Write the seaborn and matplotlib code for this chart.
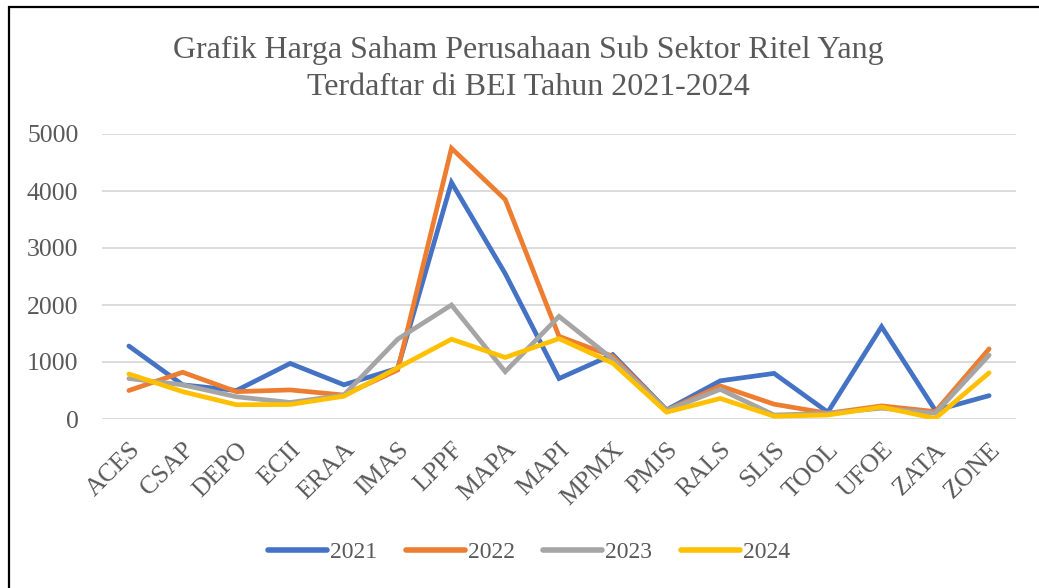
import numpy as np
import pandas as pd
import seaborn as sns
import matplotlib
matplotlib.use("Agg")
import matplotlib.pyplot as plt
from matplotlib.patches import Rectangle

companies = ["ACES", "CSAP", "DEPO", "ECII", "ERAA", "IMAS", "LPPF", "MAPA", "MAPI",
             "MPMX", "PMJS", "RALS", "SLIS", "TOOL", "UFOE", "ZATA", "ZONE"]
v2021 = [1280, 600, 500, 975, 600, 890, 4150, 2550, 710, 1130, 160, 670, 800, 120, 1620, 150, 410]
v2022 = [500, 820, 480, 510, 420, 860, 4750, 3850, 1450, 1100, 150, 580, 260, 100, 230, 130, 1230]
v2023 = [710, 600, 390, 290, 420, 1400, 2000, 830, 1800, 1050, 150, 520, 70, 100, 190, 100, 1120]
v2024 = [790, 480, 250, 255, 400, 900, 1400, 1080, 1410, 980, 120, 360, 50, 70, 210, 10, 810]
years = ["2021", "2022", "2023", "2024"]
colors = ["#4472C4", "#ED7D31", "#A5A5A5", "#FFC000"]

rows = []
for y, vals in zip(years, [v2021, v2022, v2023, v2024]):
    for i, (c, v) in enumerate(zip(companies, vals)):
        rows.append({"idx": i, "Emiten": c, "Tahun": y, "Harga": v})
df = pd.DataFrame(rows)

sns.set_theme(style="white")
plt.rcParams["font.family"] = ["Liberation Serif", "DejaVu Serif"]

fig = plt.figure(figsize=(10.39, 5.88), dpi=100)
ax = fig.add_axes([102/1039, 1-419/588, (1016-102)/1039, (419-134)/588])

sns.lineplot(data=df, x="idx", y="Harga", hue="Tahun", palette=colors,
             linewidth=3.4, ax=ax, legend=True, sort=False)
for ln in ax.lines:
    ln.set_solid_capstyle("round")
    ln.set_solid_joinstyle("miter")

ax.set_xlim(-0.5, len(companies) - 0.5)
ax.set_ylim(0, 5000)
ax.set_yticks([0, 1000, 2000, 3000, 4000, 5000])
ax.set_xticks(range(len(companies)))
ax.set_xticklabels(companies, rotation=45, ha="right", rotation_mode="anchor")
ax.tick_params(axis="both", colors="#595959", labelsize=18.5, length=0)
ax.tick_params(axis="y", pad=17)
ax.tick_params(axis="x", pad=14)
ax.set_xlabel("")
ax.set_ylabel("")
ax.yaxis.grid(True, color="#d9d9d9", linewidth=1.3)
ax.xaxis.grid(False)
for s in ax.spines.values():
    s.set_visible(False)

fig.text(528/1039, 1 - 69/588,
         "Grafik Harga Saham Perusahaan Sub Sektor Ritel Yang\nTerdaftar di BEI Tahun 2021-2024",
         fontsize=23, color="#595959", ha="center", va="center",
         multialignment="center", linespacing=1.38)

handles, labels = ax.get_legend_handles_labels()
ax.get_legend().remove()
leg = fig.legend(handles, labels, loc="center", bbox_to_anchor=(529/1039, 1 - 552/588),
                 ncol=4, frameon=False, fontsize=17, handlelength=2.5,
                 handletextpad=0.13, columnspacing=1.2, labelcolor="#595959")
for h in leg.legend_handles:
    h.set_linewidth(4)
    h.set_solid_capstyle("round")

fig.add_artist(Rectangle((9/1039, -0.1), 1.2, 1.1 - 7/588, fill=False,
                         edgecolor="black", linewidth=1.6, transform=fig.transFigure))

fig.savefig("out.png", dpi=100, facecolor="white")
